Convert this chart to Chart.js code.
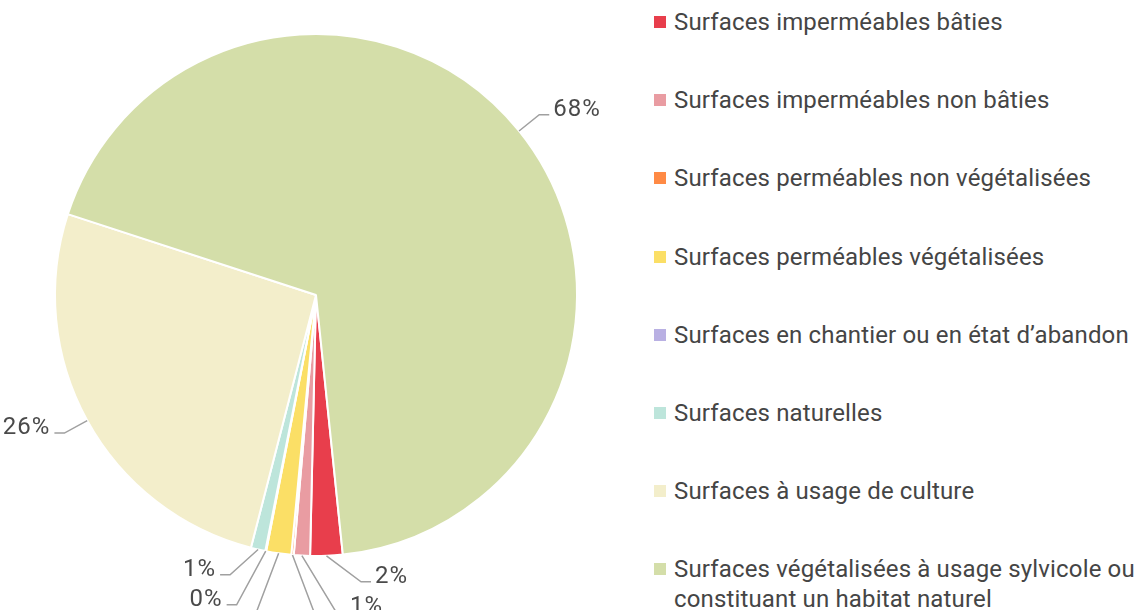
<!DOCTYPE html>
<html lang="fr">
<head>
<meta charset="utf-8">
<script src="https://cdn.jsdelivr.net/npm/chart.js@4"></script>
<style>
  html, body { margin: 0; padding: 0; background: #fff; overflow: hidden; }
  body { width: 1134px; height: 610px; position: relative; font-family: Roboto, sans-serif; }
  #pie-chart { position: absolute; left: 0; top: 0; }
  #legend { position: absolute; left: 654px; top: 7px; margin: 0; padding: 0; list-style: none; }
  #legend li { display: flex; align-items: flex-start; margin-bottom: 48.2px; }
  #legend .swatch { flex: none; width: 12px; height: 12px; margin-top: 9px; margin-right: 8px; }
  #legend .text { width: 462px; font-size: 24px; line-height: 30px; letter-spacing: 0.15px; color: #454545; }
</style>
</head>
<body>
<canvas id="pie-chart" width="632" height="610"></canvas>
<ul id="legend"></ul>
<script>
const categories = [
    'Surfaces imperméables bâties',
    'Surfaces imperméables non bâties',
    'Surfaces perméables non végétalisées',
    'Surfaces perméables végétalisées',
    'Surfaces en chantier ou en état d\u2019abandon',
    'Surfaces naturelles',
    'Surfaces à usage de culture',
    'Surfaces végétalisées à usage sylvicole ou constituant un habitat naturel'
];
const shares = [2.0, 1.0, 0.15, 1.55, 0.05, 0.9, 26.0, 68.35];
const sliceColors = ['#e83e4c', '#e99ca2', '#ff8a45', '#fbdf66', '#b9b0e3', '#bde5db', '#f3eecb', '#d4dea9'];

// Legend on the right, built as plain HTML so the long label can wrap
const legend = document.getElementById('legend');
categories.forEach(function(name, i) {
    const li = document.createElement('li');
    const sw = document.createElement('span');
    sw.className = 'swatch';
    sw.style.background = sliceColors[i];
    const txt = document.createElement('span');
    txt.className = 'text';
    txt.textContent = name;
    li.appendChild(sw);
    li.appendChild(txt);
    legend.appendChild(li);
});

// Percent labels outside the pie, joined to their slice by a bent grey line
const calloutLabels = {
    id: 'calloutLabels',
    afterDatasetsDraw(chart) {
        const ctx = chart.ctx;
        const arcs = chart.getDatasetMeta(0).data;
        const total = shares.reduce((a, b) => a + b, 0);
        const reach = 26;
        const gap = 30;
        const items = arcs.map(function(arc, i) {
            const p = arc.getProps(['x', 'y', 'startAngle', 'endAngle', 'outerRadius'], true);
            const mid = (p.startAngle + p.endAngle) / 2;
            const cos = Math.cos(mid), sin = Math.sin(mid);
            const fromTop = ((mid + Math.PI / 2) % (2 * Math.PI) + 2 * Math.PI) % (2 * Math.PI);
            return {
                text: Math.round(shares[i] / total * 100) + '%',
                cos: cos,
                ex: p.x + cos * p.outerRadius,
                ey: p.y + sin * p.outerRadius,
                nx: p.x + cos * (p.outerRadius + reach),
                ny: p.y + sin * (p.outerRadius + reach),
                side: cos > -0.11 ? 1 : -1,
                fromTop: fromTop
            };
        });

        // top-to-bottom order on each side, then push overlapping labels down
        const right = items.filter(d => d.side > 0).sort((a, b) => a.fromTop - b.fromTop);
        const left = items.filter(d => d.side < 0).sort((a, b) => b.fromTop - a.fromTop);
        [right, left].forEach(function(group) {
            let prev = -Infinity;
            group.forEach(function(d) {
                d.ly = Math.max(d.ny, prev + gap);
                prev = d.ly;
            });
        });

        ctx.save();
        ctx.strokeStyle = '#a0a0a0';
        ctx.lineWidth = 1.5;
        ctx.fillStyle = '#4a4a4a';
        ctx.font = '24px Roboto, sans-serif';
        ctx.letterSpacing = '1px';
        ctx.textBaseline = 'alphabetic';
        items.forEach(function(d) {
            // labels near the bottom get spread sideways so their lines fan out
            const spread = 36 * (1 - Math.abs(d.cos));
            const bx = d.ex + d.side * Math.max(Math.abs(d.nx - d.ex), spread);
            ctx.beginPath();
            ctx.moveTo(d.ex, d.ey);
            ctx.lineTo(bx, d.ly);
            ctx.lineTo(bx + d.side * 10, d.ly);
            ctx.stroke();
            ctx.textAlign = d.side > 0 ? 'left' : 'right';
            ctx.fillText(d.text, bx + d.side * 14, d.ly + 1);
        });
        ctx.restore();
    }
};

new Chart(document.getElementById('pie-chart').getContext('2d'), {
    type: 'pie',
    data: {
        labels: categories,
        datasets: [{
            data: shares,
            backgroundColor: sliceColors,
            borderColor: '#ffffff',
            borderWidth: 2
        }]
    },
    options: {
        responsive: false,
        animation: false,
        rotation: 174.1,
        layout: { padding: { left: 54, right: 54, top: 33, bottom: 53 } },
        plugins: {
            legend: { display: false },
            tooltip: { enabled: false }
        }
    },
    plugins: [calloutLabels]
});
</script>
</body>
</html>
